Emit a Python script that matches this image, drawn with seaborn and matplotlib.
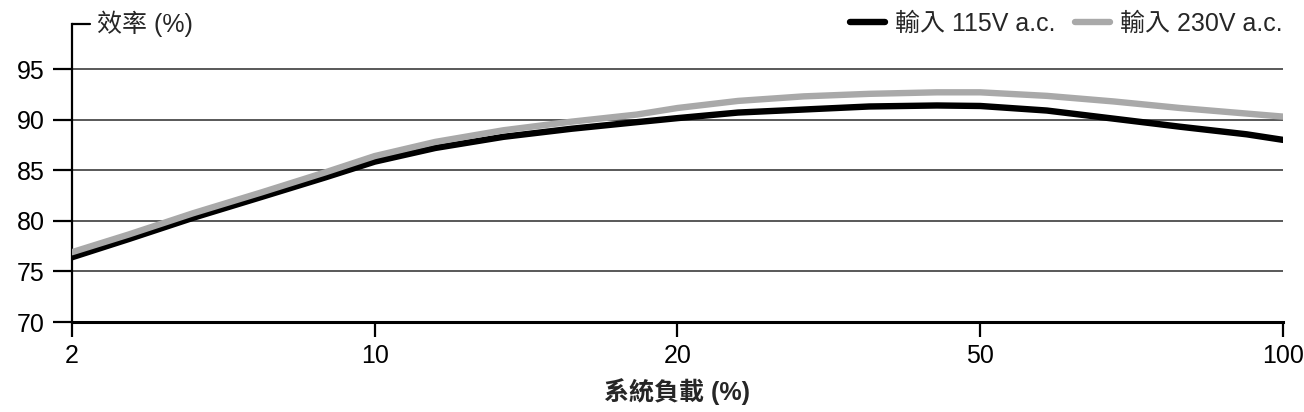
import numpy as np
import pandas as pd
import seaborn as sns
import matplotlib
matplotlib.use('Agg')
import matplotlib.pyplot as plt
from matplotlib.lines import Line2D

# system load (%) and efficiency (%)
load = [2, 3.5, 5.2, 7, 8.7, 10, 12, 14.25, 16.5, 18.65, 20,
        26, 32.5, 39, 45.7, 50, 61, 72, 83, 94, 100]
eff_115 = [76.4, 78.2, 80.3, 82.35, 84.3, 85.85, 87.2, 88.3, 89.1, 89.75, 90.15,
           90.7, 91.0, 91.3, 91.4, 91.35, 90.9, 90.1, 89.3, 88.55, 88.0]
eff_230 = [76.9, 78.65, 80.75, 82.8, 84.8, 86.4, 87.8, 88.95, 89.8, 90.5, 91.15,
           91.85, 92.3, 92.55, 92.7, 92.7, 92.35, 91.8, 91.15, 90.6, 90.3]

x_ticks = [2, 10, 20, 50, 100]
y_ticks = [70, 75, 80, 85, 90, 95]
series_names = ['輸入 115V a.c.', '輸入 230V a.c.']
colors = ['#000000', '#a9a9a9']


def main():
    sns.set_style('white')
    plt.rcParams['font.family'] = ['Liberation Sans', 'Noto Sans CJK TC']

    df = pd.DataFrame({
        'load': load * 2,
        'eff': eff_115 + eff_230,
        'series': [series_names[0]] * len(load) + [series_names[1]] * len(load),
    })

    fig = plt.figure(figsize=(13.04, 4.12), dpi=100)
    ax = fig.add_axes([0.0552, 0.2184, 0.9287, 0.7233])

    # tick positions are evenly spaced, so map load -> tick index
    pos = np.arange(len(x_ticks))
    fwd = lambda v: np.interp(v, x_ticks, pos)
    inv = lambda p: np.interp(p, pos, x_ticks)
    ax.set_xscale('function', functions=(fwd, inv))

    sns.lineplot(data=df, x='load', y='eff', hue='series', palette=colors,
                 linewidth=4.6, legend=False, ax=ax, zorder=3,
                 solid_capstyle='round', solid_joinstyle='round')

    ax.set_xlim(2, 100)
    ax.set_ylim(70, 99.45)
    ax.set_xticks(x_ticks)
    ax.set_xticklabels([str(t) for t in x_ticks])
    ax.set_yticks(y_ticks)
    ax.minorticks_off()

    for y in y_ticks[1:]:
        ax.axhline(y, color='#3c3c3c', lw=1.2, zorder=1)

    for s in ['top', 'right']:
        ax.spines[s].set_visible(False)
    ax.spines['left'].set_linewidth(1.6)
    ax.spines['bottom'].set_linewidth(2.2)
    ax.spines['left'].set_color('black')
    ax.spines['bottom'].set_color('black')

    ax.tick_params(axis='y', direction='out', length=13.5, width=1.6,
                   pad=6, labelsize=18, left=True, colors='black')
    ax.tick_params(axis='x', direction='out', length=11, width=1.6,
                   pad=5, labelsize=18, bottom=True, colors='black')

    ax.set_xlabel('系統負載 (%)', fontsize=18, fontweight='bold', labelpad=7)
    ax.set_ylabel('')

    # small bar at the top of the y axis and the y title next to it
    ax.plot([0, 0.015], [1, 1], transform=ax.transAxes, color='black',
            lw=1.6, clip_on=False)
    ax.text(0.021, 1.0, '效率 (%)', transform=ax.transAxes, fontsize=18,
            va='center', ha='left')

    handles = [Line2D([], [], color=c, lw=4.6) for c in colors]
    ax.legend(handles, series_names, loc='center right',
              bbox_to_anchor=(1.0, 1.0), ncol=2, frameon=False,
              fontsize=18, handlelength=1.4, handletextpad=0.4,
              columnspacing=0.8, borderaxespad=0, borderpad=0)

    fig.savefig('out.png', dpi=100, facecolor='white')


if __name__ == '__main__':
    main()
